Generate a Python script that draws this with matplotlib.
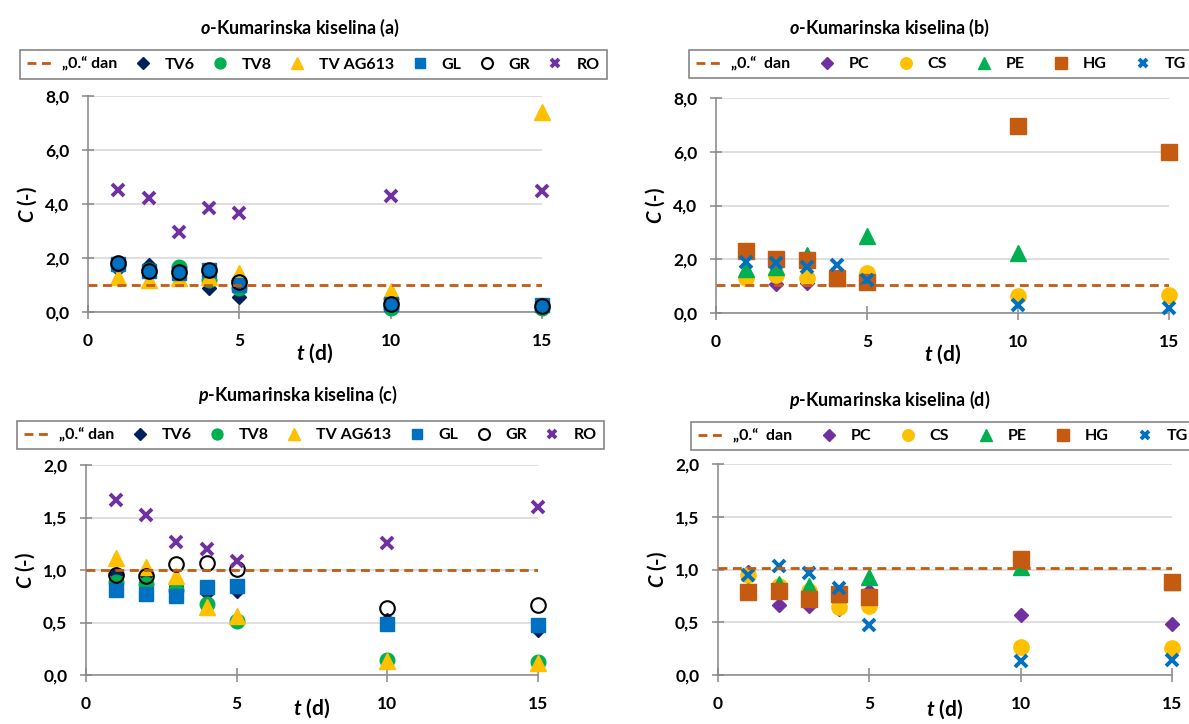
import numpy as np
import matplotlib
matplotlib.use("Agg")
import matplotlib.pyplot as plt
from matplotlib.ticker import FuncFormatter

plt.rcParams['font.family'] = ['Lato', 'DejaVu Sans']
plt.rcParams['font.weight'] = 'bold'
plt.rcParams['mathtext.fontset'] = 'custom'
plt.rcParams['mathtext.it'] = 'Lato:bold:italic'
plt.rcParams['mathtext.rm'] = 'Lato:bold'

# === data ===
t = [1, 2, 3, 4, 5, 10, 15]

# o-Kumarinska kiselina (a)
a_tv6 = [1.60, 1.74, 1.45, 0.89, 0.57, 0.22, 0.20]
a_tv8 = [1.75, 1.55, 1.68, 1.20, 0.90, 0.15, 0.15]
a_ag613 = [1.31, 1.20, 1.25, 1.30, 1.43, 0.79, 7.42]
a_gl = [1.76, 1.53, 1.45, 1.55, 1.00, 0.30, 0.25]
a_gr = [1.83, 1.53, 1.48, 1.56, 1.12, 0.30, 0.22]
a_ro = [4.52, 4.21, 2.97, 3.84, 3.65, 4.30, 4.49]

# o-Kumarinska kiselina (b)
b_pc = [1.35, 1.07, 1.12, 1.30, 1.20, 0.62, 0.65]
b_cs = [1.30, 1.42, 1.32, 1.30, 1.48, 0.64, 0.68]
b_pe = [1.62, 1.72, 2.16, 1.30, 2.85, 2.22, np.nan]
b_hg = [2.29, 2.02, 1.98, 1.30, 1.15, 6.95, 6.00]
b_tg = [1.91, 1.85, 1.73, 1.80, 1.23, 0.31, 0.19]

# p-Kumarinska kiselina (c)
c_tv6 = [0.96, 0.95, 0.85, 0.78, 0.80, 0.52, 0.43]
c_tv8 = [0.89, 0.87, 0.81, 0.68, 0.51, 0.14, 0.12]
c_ag613 = [1.11, 1.03, 0.94, 0.65, 0.56, 0.13, 0.11]
c_gl = [0.81, 0.77, 0.75, 0.84, 0.85, 0.49, 0.48]
c_gr = [0.95, 0.94, 1.06, 1.07, 1.01, 0.64, 0.67]
c_ro = [1.67, 1.52, 1.27, 1.20, 1.09, 1.26, 1.60]

# p-Kumarinska kiselina (d)
d_pc = [0.98, 0.66, 0.65, 0.63, 0.80, 0.57, 0.48]
d_cs = [0.95, 0.84, 0.80, 0.64, 0.65, 0.27, 0.26]
d_pe = [0.80, 0.86, 0.84, 0.77, 0.93, 1.02, 0.88]
d_hg = [0.79, 0.80, 0.72, 0.77, 0.74, 1.10, 0.88]
d_tg = [0.95, 1.03, 0.97, 0.82, 0.47, 0.13, 0.14]

ref_day0 = [1.0, 1.04, 1.0, 1.01]
ref_labels = ["\u201e0.\u201c dan", "\u201e0.\u201c  dan", "\u201e0.\u201c dan", "\u201e0.\u201c  dan"]

# === styles ===
ORANGE = '#C55A11'
GRAY = '#868686'
st = {
    'TV6': dict(marker='D', ms=7.5, color='#002060'),
    'TV8': dict(marker='o', ms=10.5, color='#00B050'),
    'TV AG613': dict(marker='^', ms=11, color='#FFC000'),
    'GL': dict(marker='s', ms=10.5, color='#0070C0'),
    'GR': dict(marker='o', ms=10.5, color='black', mfc='none', mew=1.5),
    'RO': dict(marker='x', ms=8.5, color='#7030A0', mew=2.8),
    'PC': dict(marker='D', ms=7.5, color='#7030A0'),
    'CS': dict(marker='o', ms=11, color='#FFC000'),
    'PE': dict(marker='^', ms=11, color='#00B050'),
    'HG': dict(marker='s', ms=11, color=ORANGE),
    'TG': dict(marker='x', ms=8.5, color='#0070C0', mew=2.8),
}

fig = plt.figure(figsize=(11.89, 7.24), dpi=100)
W, H = 1189, 724


def make_ax(left, top, right, bottom):
    return fig.add_axes([left / W, 1 - bottom / H, (right - left) / W, (bottom - top) / H])


def style_ax(ax, ymax, ystep, xlab_y):
    ax.set_xlim(0, 15)
    ax.set_ylim(0, ymax)
    ax.set_xticks([0, 5, 10, 15])
    ax.set_yticks(np.arange(0, ymax + 1e-9, ystep))
    ax.yaxis.set_major_formatter(FuncFormatter(lambda v, p: f"{v:.1f}".replace('.', ',')))
    ax.grid(axis='y', color='#d9d9d9', lw=1.2, zorder=0)
    ax.set_axisbelow(True)
    for s in ['top', 'right']:
        ax.spines[s].set_visible(False)
    for s in ['left', 'bottom']:
        ax.spines[s].set_color(GRAY)
        ax.spines[s].set_linewidth(1.1)
    ax.tick_params(axis='x', direction='inout', length=10, width=1.1, color=GRAY, labelsize=12.5, pad=10)
    ax.tick_params(axis='y', direction='inout', length=9, width=1.1, color=GRAY, labelsize=12.5, pad=9)
    ax.text(0.5, xlab_y, r'$\mathit{t}$ (d)', transform=ax.transAxes, ha='center', va='center', fontsize=15)
    ax.text(-0.135, 0.5, r'$\mathit{C}$ (-)', transform=ax.transAxes, ha='center', va='center',
            rotation=90, fontsize=14.5)


def draw_panel(ax, series, ref, ref_label, leg_anchor, colspace):
    handles = []
    line, = ax.plot([0, 15], [ref, ref], ls=(0, (3.2, 2)), color=ORANGE, lw=2.0, zorder=10)
    handles.append(line)
    for i, (name, vals) in enumerate(series):
        h, = ax.plot(t, vals, ls='none', clip_on=False, zorder=3 + i, **st[name])
        handles.append(h)
    labels = [ref_label] + [n for n, _ in series]
    leg = ax.legend(handles, labels, loc='center left', bbox_to_anchor=leg_anchor,
                    bbox_transform=fig.transFigure, ncol=len(labels), frameon=True, fancybox=False,
                    edgecolor=GRAY, framealpha=1, fontsize=11.5, handlelength=1.7, handletextpad=0.5,
                    columnspacing=colspace, borderpad=0.45, markerscale=0.75)
    leg.get_frame().set_linewidth(1.2)


# (a)
ax_a = make_ax(88, 96, 542, 312)
style_ax(ax_a, 8, 2, -0.19)
draw_panel(ax_a, [('TV6', a_tv6), ('TV8', a_tv8), ('TV AG613', a_ag613), ('GL', a_gl),
                  ('GR', a_gr), ('RO', a_ro)], ref_day0[0], ref_labels[0], (12 / W, 1 - 64.5 / H), 0.75)

# (b)
ax_b = make_ax(716, 98, 1169, 313)
style_ax(ax_b, 8, 2, -0.19)
draw_panel(ax_b, [('PC', b_pc), ('CS', b_cs), ('PE', b_pe), ('HG', b_hg), ('TG', b_tg)],
           ref_day0[1], ref_labels[1], (681 / W, 1 - 64 / H), 1.45)

# (c)
ax_c = make_ax(86, 465, 538, 675)
style_ax(ax_c, 2, 0.5, -0.16)
draw_panel(ax_c, [('TV6', c_tv6), ('TV8', c_tv8), ('TV AG613', c_ag613), ('GL', c_gl),
                  ('GR', c_gr), ('RO', c_ro)], ref_day0[2], ref_labels[2], (9 / W, 1 - 435 / H), 0.75)

# (d)
ax_d = make_ax(718, 464, 1172, 675)
style_ax(ax_d, 2, 0.5, -0.16)
draw_panel(ax_d, [('PC', d_pc), ('CS', d_cs), ('PE', d_pe), ('HG', d_hg), ('TG', d_tg)],
           ref_day0[3], ref_labels[3], (683 / W, 1 - 436 / H), 1.45)

# titles
fig.text(300 / W, 1 - 28 / H, r'$\mathit{o}$-Kumarinska kiselina (a)', ha='center', va='center', fontsize=13)
fig.text(890 / W, 1 - 28 / H, r'$\mathit{o}$-Kumarinska kiselina (b)', ha='center', va='center', fontsize=13)
fig.text(298 / W, 1 - 395 / H, r'$\mathit{p}$-Kumarinska kiselina (c)', ha='center', va='center', fontsize=13)
fig.text(890 / W, 1 - 400 / H, r'$\mathit{p}$-Kumarinska kiselina (d)', ha='center', va='center', fontsize=13)

fig.savefig('out.png', dpi=100)
